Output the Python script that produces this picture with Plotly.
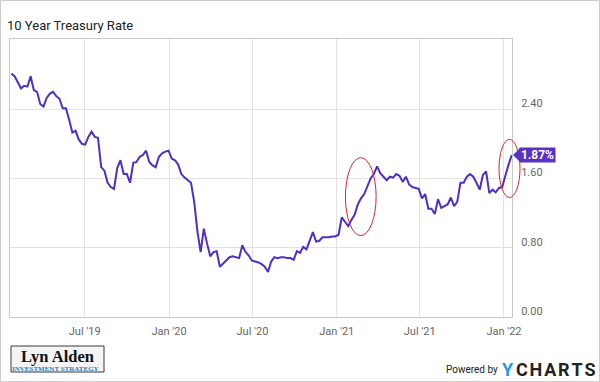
import pandas as pd
import plotly.graph_objects as go

# ---- data (weekly, Tuesdays) ----
start_date = "2019-01-22"
rates = [
    2.81, 2.78, 2.71, 2.64, 2.67, 2.66, 2.78, 2.62, 2.60, 2.46,
    2.43, 2.53, 2.58, 2.60, 2.55, 2.52, 2.41, 2.41, 2.28, 2.13,
    2.15, 2.05, 2.00, 1.99, 2.08, 2.14, 2.08, 2.07, 1.73, 1.69,
    1.55, 1.50, 1.48, 1.72, 1.81, 1.65, 1.65, 1.55, 1.78, 1.79,
    1.85, 1.87, 1.92, 1.79, 1.75, 1.73, 1.85, 1.89, 1.91, 1.92,
    1.83, 1.81, 1.76, 1.65, 1.61, 1.58, 1.55, 1.33, 0.99, 0.75,
    1.02, 0.85, 0.70, 0.75, 0.76, 0.58, 0.62, 0.66, 0.69, 0.70,
    0.69, 0.68, 0.83, 0.75, 0.71, 0.65, 0.64, 0.63, 0.61, 0.58,
    0.52, 0.64, 0.69, 0.68, 0.69, 0.69, 0.68, 0.68, 0.66, 0.76,
    0.74, 0.81, 0.78, 0.87, 0.98, 0.87, 0.88, 0.92, 0.92, 0.92,
    0.93, 0.93, 0.95, 1.15, 1.10, 1.05, 1.12, 1.18, 1.30, 1.37,
    1.42, 1.52, 1.60, 1.65, 1.74, 1.66, 1.62, 1.58, 1.62, 1.61,
    1.65, 1.63, 1.56, 1.62, 1.53, 1.50, 1.49, 1.48, 1.37, 1.42,
    1.25, 1.25, 1.19, 1.36, 1.26, 1.28, 1.30, 1.38, 1.28, 1.33,
    1.55, 1.55, 1.62, 1.65, 1.62, 1.55, 1.47, 1.64, 1.68, 1.43,
    1.47, 1.44, 1.49, 1.50, 1.64, 1.76, 1.87,
]
dates = pd.date_range(start_date, periods=len(rates), freq="7D")

x_tick_vals = ["2019-07-01", "2020-01-01", "2020-07-01", "2021-01-01", "2021-07-01", "2022-01-01"]
x_tick_text = ["Jul '19", "Jan '20", "Jul '20", "Jan '21", "Jul '21", "Jan '22"]
y_tick_vals = [0.0, 0.8, 1.6, 2.4]
x_range = ["2019-01-19", "2022-01-18 12:00"]
y_range = [0, 3.21]

title_text = "10 Year Treasury Rate"
last_label = f"{rates[-1]:.2f}%"

# ---- layout helpers (pixel -> paper) ----
W, H = 600, 382
ML, MR, MT, MB = 10, 88, 39, 65
PW, PH = W - ML - MR, H - MT - MB


def px(xp):
    return (xp - ML) / PW


def py(yp):
    return (H - MB - yp) / PH


LINE = "#4f2fc4"
TAG = "#5b30c6"
GRID = "#e2e2e2"
FRAME = "#c9c9c9"
TICK = "#666666"
FONT = "Roboto"

fig = go.Figure()
fig.add_trace(go.Scatter(
    x=dates, y=rates, mode="lines",
    line=dict(color=LINE, width=2), hoverinfo="skip", showlegend=False,
))

fig.update_layout(
    width=W, height=H,
    margin=dict(l=ML, r=MR, t=MT, b=MB),
    paper_bgcolor="white", plot_bgcolor="white",
    font=dict(family=FONT, color=TICK),
    title=dict(text=title_text, x=7 / W, xanchor="left", y=1 - 25 / H, yanchor="middle",
               font=dict(family=FONT, size=13, color="#222222")),
    xaxis=dict(
        range=x_range, tickmode="array", tickvals=x_tick_vals, ticktext=x_tick_text,
        showgrid=True, gridcolor=GRID, gridwidth=1, zeroline=False,
        showline=True, linecolor=FRAME, linewidth=1, mirror=True,
        ticks="", ticklabelstandoff=4, tickfont=dict(family=FONT, size=11, color=TICK),
    ),
    yaxis=dict(
        range=y_range, side="right", tickmode="array", tickvals=y_tick_vals,
        tickformat=".2f", ticksuffix="%",
        showgrid=True, gridcolor=GRID, gridwidth=1, zeroline=False,
        showline=True, linecolor=FRAME, linewidth=1, mirror=True,
        ticks="", ticklabelstandoff=6, ticklabelshift=-6,
        tickfont=dict(family=FONT, size=11, color=TICK),
    ),
)

# red highlight ellipses
fig.add_shape(type="circle", xref="x", yref="y",
              x0="2021-01-20", x1="2021-03-28", y0=0.94, y1=1.84,
              line=dict(color="#d9262c", width=1))
fig.add_shape(type="circle", xref="paper", yref="y", xsizemode="pixel", xanchor=1,
              x0=-13, x1=8, y0=1.38, y1=2.05,
              line=dict(color="#d9262c", width=1))

# last value tag
fig.add_shape(type="path", xref="paper", yref="y", xsizemode="pixel", ysizemode="pixel",
              xanchor=1, yanchor=rates[-1], path="M 1 0 L 8 7 L 8 -7 Z",
              fillcolor=TAG, line=dict(width=0))
fig.add_annotation(text=f"<b>{last_label}</b>", xref="paper", yref="y", x=1, y=rates[-1],
                   xanchor="left", yanchor="middle", xshift=7, showarrow=False,
                   width=35, height=14, bgcolor=TAG, borderpad=0,
                   font=dict(family=FONT, size=12, color="white"))

# outer image frame
fig.add_shape(type="rect", xref="paper", yref="paper",
              x0=px(0.5), x1=px(599.5), y0=py(381.5), y1=py(0.5),
              line=dict(color="#cccccc", width=1), layer="below")

# Lyn Alden logo
fig.add_shape(type="rect", xref="paper", yref="paper",
              x0=px(11), x1=px(104), y0=py(372), y1=py(346),
              line=dict(color="#3a3a3a", width=1), fillcolor="#f4f4f4")
fig.add_annotation(text="<b>Lyn Alden</b>", xref="paper", yref="paper",
                   x=px(57.5), y=py(356), xanchor="center", yanchor="middle", showarrow=False,
                   font=dict(family="Liberation Serif", size=16.5, color="#111111"))
fig.add_annotation(text="<b>INVESTMENT STRATEGY</b>", xref="paper", yref="paper",
                   x=px(55), y=py(368.5), xanchor="center", yanchor="middle", showarrow=False,
                   font=dict(family="Liberation Serif", size=7, color="#2b7cbc"))

# Powered by YCHARTS
fig.add_annotation(text="Powered by", xref="paper", yref="paper",
                   x=px(500), y=py(369), xanchor="right", yanchor="middle", showarrow=False,
                   font=dict(family=FONT, size=10, color="#222222"))
fig.add_annotation(text="<b>Y</b>", xref="paper", yref="paper",
                   x=px(500), y=py(369), xanchor="left", yanchor="middle", showarrow=False,
                   font=dict(family=FONT, size=18, color="#1d9be2"))
fig.add_annotation(text="<b>C\u200aH\u200aA\u200aR\u200aT\u200aS</b>", xref="paper", yref="paper",
                   x=px(514), y=py(369), xanchor="left", yanchor="middle", showarrow=False,
                   font=dict(family=FONT, size=18, color="#222222"))

fig.write_html(
    "out.html",
    config={"displayModeBar": False, "staticPlot": True},
    post_script="document.body.style.margin='0';document.body.style.overflow='hidden';",
)
